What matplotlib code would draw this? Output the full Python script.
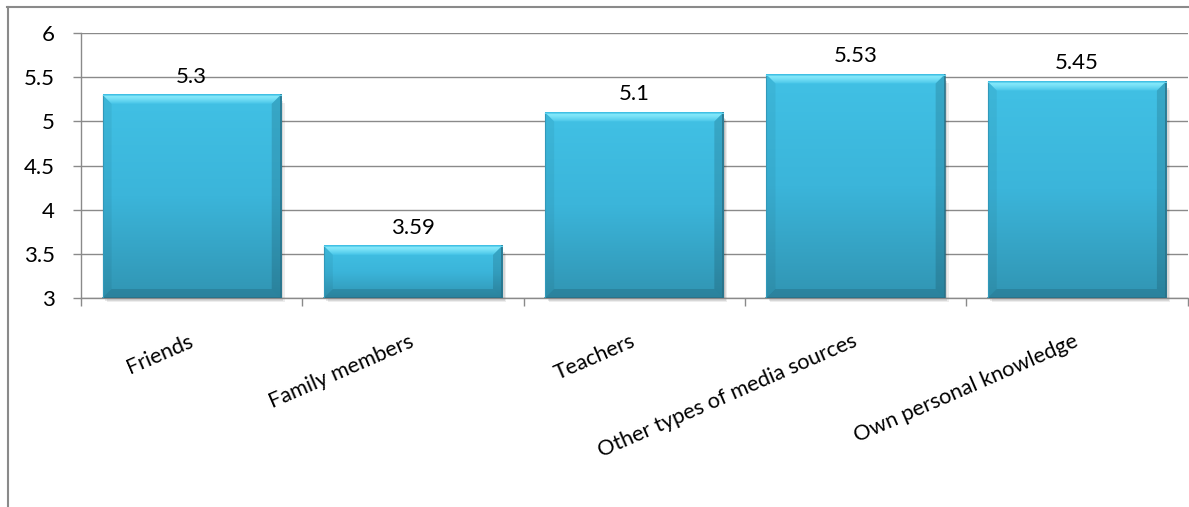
import numpy as np
import matplotlib
matplotlib.use("Agg")
import matplotlib.pyplot as plt
from matplotlib.patches import Polygon, Rectangle
from matplotlib.lines import Line2D
from matplotlib.colors import LinearSegmentedColormap
from matplotlib.transforms import ScaledTranslation

categories = ["Friends", "Family members", "Teachers",
              "Other types of media sources", "Own personal knowledge"]
values = [5.3, 3.59, 5.1, 5.53, 5.45]
value_labels = ["5.3", "3.59", "5.1", "5.53", "5.45"]
y_ticks = [3, 3.5, 4, 4.5, 5, 5.5, 6]
y_tick_labels = ["3", "3.5", "4", "4.5", "5", "5.5", "6"]

plt.rcParams['font.family'] = ['Lato', 'DejaVu Sans']

W, H, DPI = 1189, 507, 100
fig = plt.figure(figsize=(W / DPI, H / DPI), dpi=DPI)
ax = fig.add_axes([81 / W, 1 - 298 / H, (1187.5 - 81) / W, (298 - 33) / H])

grid_col = "#8a8a8a"
ax.set_xlim(-0.5, len(categories) - 0.5)
ax.set_ylim(3, 6)
ax.set_yticks(y_ticks)
ax.set_yticklabels(y_tick_labels, fontsize=16, color="#000000")
ax.yaxis.grid(True, color=grid_col, lw=1.0)
ax.set_axisbelow(True)
for s in ["top", "right"]:
    ax.spines[s].set_visible(False)
for s in ["left", "bottom"]:
    ax.spines[s].set_color(grid_col)
    ax.spines[s].set_linewidth(1.0)
ax.tick_params(axis="y", direction="out", length=6, width=1.0, color=grid_col, pad=13)

# category boundaries: major ticks, centers: minor ticks with labels
xs = np.arange(len(categories))
ax.set_xticks(np.arange(len(categories) + 1) - 0.5)
ax.set_xticklabels([])
ax.tick_params(axis="x", which="major", direction="out", length=6, width=1.0, color=grid_col)
ax.set_xticks(xs, minor=True)
ax.set_xticklabels(categories, minor=True, rotation=23.5, ha="right", va="top",
                   rotation_mode="default", fontsize=15.6)
ax.tick_params(axis="x", which="minor", length=0, pad=24)
for lab in ax.get_xticklabels(minor=True):
    lab.set_transform(lab.get_transform() + ScaledTranslation(4 / 100, 0, fig.dpi_scale_trans))

fig.canvas.draw()

def px_to_data(px_x, px_y):
    inv = ax.transData.inverted()
    p0 = inv.transform((0, 0))
    p1 = inv.transform((px_x, px_y))
    return p1[0] - p0[0], p1[1] - p0[1]

face_cmap = LinearSegmentedColormap.from_list("face", ["#41c1e5", "#3bb5da", "#3195b3"])
top_cmap = LinearSegmentedColormap.from_list("top", ["#45c4e7", "#6fdcf4", "#8eeefd"])

bar_w = 0.805
bev_x, bev_y = px_to_data(9, 9)
sh_x, sh_y = px_to_data(4, 4)

bars = ax.bar(xs, [v - 3 for v in values], bottom=3, width=bar_w,
              color="#3bb6db", zorder=3, edgecolor="none")

for b, v in zip(bars, values):
    x0, x1 = b.get_x(), b.get_x() + b.get_width()
    y0, y1 = 3, v
    # soft shadow
    for k, a in [(1.0, 0.07), (0.65, 0.09), (0.3, 0.11)]:
        ax.add_patch(Rectangle((x0 + sh_x * k, y0 - sh_y * k), x1 - x0, y1 - y0 - sh_y,
                               facecolor="#000000", alpha=a, lw=0, zorder=2.5,
                               clip_on=False))
    # face gradient (light top, darker bottom)
    grad = np.linspace(0, 1, 256).reshape(-1, 1)
    ax.imshow(grad, cmap=face_cmap, extent=[x0, x1, y0, y1], aspect="auto",
              zorder=3.1, origin="upper", vmin=0, vmax=1, interpolation="bilinear")
    # top bevel gradient
    tg = np.linspace(0, 1, 64).reshape(-1, 1)
    im = ax.imshow(tg, cmap=top_cmap, extent=[x0, x1, y1 - bev_y, y1], aspect="auto",
                   zorder=3.2, origin="lower", vmin=0, vmax=1, interpolation="bilinear")
    tp = Polygon([(x0, y1), (x1, y1), (x1 - bev_x, y1 - bev_y), (x0 + bev_x, y1 - bev_y)],
                 closed=True, facecolor="none", edgecolor="none", transform=ax.transData)
    ax.add_patch(tp)
    im.set_clip_path(tp)
    # side / bottom bevels as translucent shading
    ax.add_patch(Polygon([(x0, y1), (x0 + bev_x, y1 - bev_y), (x0 + bev_x, y0 + bev_y), (x0, y0)],
                         closed=True, facecolor="#000000", alpha=0.05, lw=0, zorder=3.3))
    ax.add_patch(Polygon([(x1, y1), (x1 - bev_x, y1 - bev_y), (x1 - bev_x, y0 + bev_y), (x1, y0)],
                         closed=True, facecolor="#000000", alpha=0.13, lw=0, zorder=3.3))
    ax.add_patch(Polygon([(x0, y0), (x0 + bev_x, y0 + bev_y), (x1 - bev_x, y0 + bev_y), (x1, y0)],
                         closed=True, facecolor="#000000", alpha=0.12, lw=0, zorder=3.3))
    # edges
    ax.add_line(Line2D([x0, x1, x1], [y0, y0, y1], color="#2a6f85", lw=1.1, zorder=3.4))
    ax.add_line(Line2D([x0, x0], [y0, y1], color="#3199ba", lw=0.8, zorder=3.4))
    ax.add_line(Line2D([x0, x1], [y1, y1], color="#5fd2ee", lw=0.8, zorder=3.4))

for x, v, t in zip(xs, values, value_labels):
    ax.annotate(t, (x, v), xytext=(0, 6), textcoords="offset points",
                ha="center", va="bottom", fontsize=16, color="#000000", zorder=5)

# outer chart border (top and left visible)
fig.add_artist(Line2D([7 / W, 1], [1 - 6.5 / H, 1 - 6.5 / H], color=grid_col, lw=1.5))
fig.add_artist(Line2D([7.5 / W, 7.5 / W], [1 - 6.5 / H, 0], color=grid_col, lw=1.5))

fig.savefig("out.png", dpi=DPI, facecolor="white")
